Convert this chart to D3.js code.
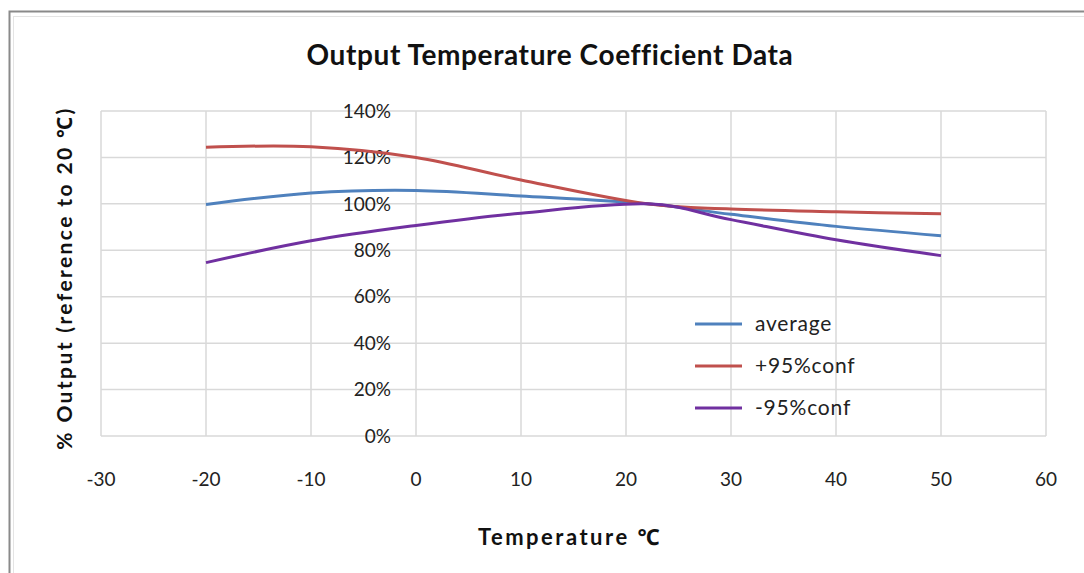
<!DOCTYPE html>
<html>
<head>
<meta charset="utf-8">
<script src="https://cdn.jsdelivr.net/npm/d3@7"></script>
<style>
  body { margin: 0; background: #fff; }
  svg { display: block; font-family: Lato, "Noto Sans", sans-serif; }
</style>
</head>
<body>
<svg id="chart" width="1084" height="573"></svg>
<script>
// temperatures (deg C) the curves pass through
const temps = [-20, -10, 0, 10, 22, 30, 40, 50];
// relative output, 1 = 100 %
const average = [0.997, 1.047, 1.058, 1.034, 1.0, 0.955, 0.903, 0.863];
const conf95Plus = [1.244, 1.246, 1.200, 1.103, 1.0, 0.978, 0.966, 0.957];
const conf95Minus = [0.747, 0.841, 0.907, 0.960, 1.0, 0.932, 0.845, 0.777];
const seriesNames = ["average", "+95%conf", "-95%conf"];
const seriesColors = ["#4f81bd", "#c0504d", "#7030a0"];
const xTicks = [-30, -20, -10, 0, 10, 20, 30, 40, 50, 60];
const yTicks = [0, 0.2, 0.4, 0.6, 0.8, 1.0, 1.2, 1.4];

const svg = d3.select("#chart");

// chart frame (runs off the bottom/right of the picture)
svg.append("rect")
    .attr("x", 9.5).attr("y", 11.5)
    .attr("width", 1100).attr("height", 600)
    .attr("fill", "none").attr("stroke", "#8a8a8a").attr("stroke-width", 2);
svg.append("rect")
    .attr("x", 13.5).attr("y", 16.5)
    .attr("width", 1100).attr("height", 600)
    .attr("fill", "none").attr("stroke", "#e4e4e4").attr("stroke-width", 1);

const x = d3.scaleLinear().domain([-30, 60]).range([101, 1046]);
const y = d3.scaleLinear().domain([0, 1.4]).range([436, 111]);

// grid
const grid = svg.append("g").attr("stroke", "#d9d9d9").attr("stroke-width", 1.5);
grid.selectAll(".v").data(xTicks).join("line")
    .attr("x1", d => x(d)).attr("x2", d => x(d))
    .attr("y1", y(1.4)).attr("y2", y(0));
grid.selectAll(".h").data(yTicks).join("line")
    .attr("x1", x(-30)).attr("x2", x(60))
    .attr("y1", d => y(d)).attr("y2", d => y(d));

// x tick labels
svg.append("g")
    .attr("font-size", 19).attr("fill", "#222").attr("text-anchor", "middle")
  .selectAll("text").data(xTicks).join("text")
    .attr("x", d => x(d)).attr("y", 479).attr("dy", "0.35em")
    .text(d => d);

// y tick labels, sitting left of the x = 0 axis
const pct = d3.format(".0%");
svg.append("g")
    .attr("font-size", 19).attr("fill", "#222").attr("text-anchor", "end")
  .selectAll("text").data(yTicks).join("text")
    .attr("x", x(0) - 25).attr("y", d => y(d)).attr("dy", "0.35em")
    .text(d => pct(d));

// series
const line = d3.line()
    .x((d, i) => x(temps[i]))
    .y(d => y(d))
    .curve(d3.curveCardinal);

const allSeries = [average, conf95Plus, conf95Minus];
svg.append("g").attr("fill", "none").attr("stroke-width", 3)
  .selectAll("path").data(allSeries).join("path")
    .attr("stroke", (d, i) => seriesColors[i])
    .attr("d", line);

// legend
const legend = svg.append("g").selectAll("g").data(seriesNames).join("g")
    .attr("transform", (d, i) => `translate(695,${324 + i * 42})`);
legend.append("line")
    .attr("x1", 0).attr("x2", 47)
    .attr("stroke", (d, i) => seriesColors[i]).attr("stroke-width", 3);
legend.append("text")
    .attr("x", 60).attr("dy", "0.35em")
    .attr("font-size", 21).attr("letter-spacing", 0.8).attr("fill", "#222")
    .text(d => d);

// titles
svg.append("text")
    .attr("x", 550).attr("y", 55).attr("dy", "0.35em")
    .attr("text-anchor", "middle").attr("font-size", 28).attr("font-weight", "bold")
    .attr("letter-spacing", 0.6)
    .attr("fill", "#111")
    .text("Output Temperature Coefficient Data");

svg.append("text")
    .attr("x", 570).attr("y", 537).attr("dy", "0.35em")
    .attr("text-anchor", "middle").attr("font-size", 22).attr("font-weight", "bold")
    .attr("letter-spacing", 2.5)
    .attr("fill", "#111")
    .text("Temperature ℃");

svg.append("text")
    .attr("transform", "translate(65,278) rotate(-90)")
    .attr("dy", "0.35em")
    .attr("text-anchor", "middle").attr("font-size", 21).attr("font-weight", "bold")
    .attr("letter-spacing", 2.4)
    .attr("fill", "#111")
    .text("% Output (reference to 20 ℃)");
</script>
</body>
</html>
